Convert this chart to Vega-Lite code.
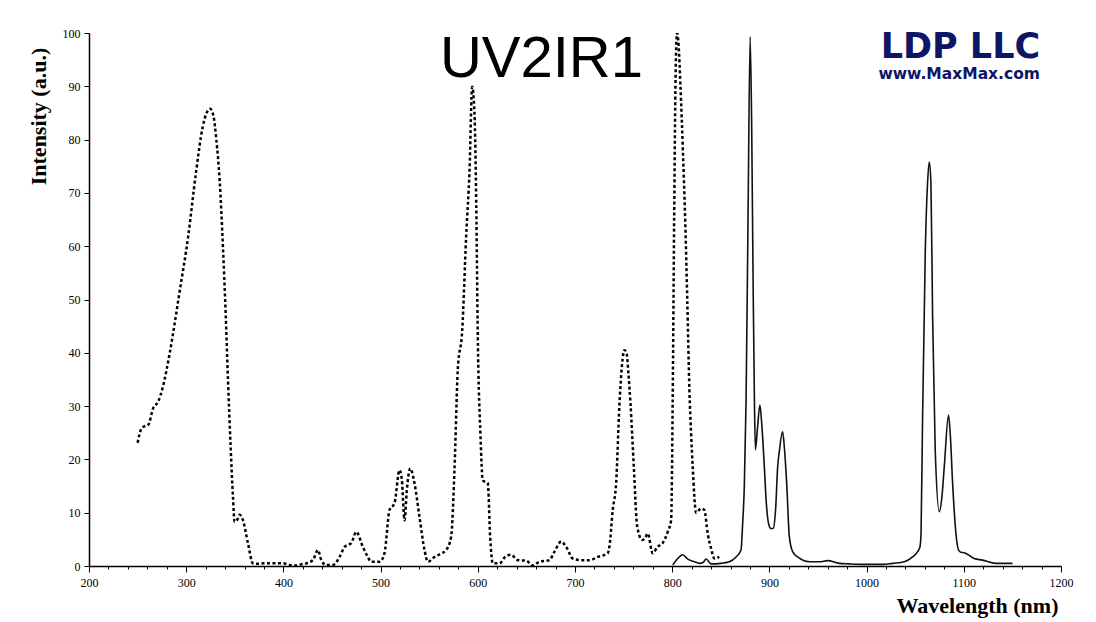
{
  "$schema": "https://vega.github.io/schema/vega-lite/v6.json",
  "width": 972,
  "height": 533,
  "autosize": {"type": "none"},
  "padding": {"left": 89, "top": 33, "right": 35, "bottom": 56},
  "background": "white",
  "config": {"view": {"stroke": null}},
  "datasets": {
    "uvvis": [
      {"nm": 250, "v": 23.1}, {"nm": 254, "v": 25.8}, {"nm": 257, "v": 26.2}, {"nm": 261, "v": 26.5}, {"nm": 266, "v": 29.6},
      {"nm": 271, "v": 30.8}, {"nm": 276, "v": 33.6}, {"nm": 283, "v": 39.9}, {"nm": 293, "v": 51.2}, {"nm": 302, "v": 61.8},
      {"nm": 310, "v": 73.7}, {"nm": 317, "v": 82.4}, {"nm": 321, "v": 85}, {"nm": 324.5, "v": 85.8}, {"nm": 328, "v": 84.5},
      {"nm": 331, "v": 80}, {"nm": 334.4, "v": 72.4}, {"nm": 337.8, "v": 59.9}, {"nm": 340.6, "v": 47.4}, {"nm": 343, "v": 34.9},
      {"nm": 345.7, "v": 22.4}, {"nm": 348.1, "v": 13}, {"nm": 349.8, "v": 8.3}, {"nm": 352, "v": 8.5}, {"nm": 355, "v": 9.6},
      {"nm": 358.4, "v": 8.6}, {"nm": 363.5, "v": 4.3}, {"nm": 368.6, "v": 0.5}, {"nm": 372, "v": 0.4}, {"nm": 380, "v": 0.5},
      {"nm": 390, "v": 0.5}, {"nm": 399.5, "v": 0.5}, {"nm": 406, "v": 0.2}, {"nm": 413, "v": 0.1}, {"nm": 418, "v": 0.3},
      {"nm": 423.5, "v": 0.5}, {"nm": 430.3, "v": 1.1}, {"nm": 435.5, "v": 3}, {"nm": 439, "v": 1.1}, {"nm": 444, "v": 0.2},
      {"nm": 451, "v": 0.2}, {"nm": 457.8, "v": 1.7}, {"nm": 463, "v": 3.6}, {"nm": 467, "v": 4}, {"nm": 469.8, "v": 4.3},
      {"nm": 475, "v": 6.4}, {"nm": 481.7, "v": 3.6}, {"nm": 486, "v": 2}, {"nm": 490.4, "v": 0.8}, {"nm": 499, "v": 0.8},
      {"nm": 504, "v": 2.4}, {"nm": 509.2, "v": 10.5}, {"nm": 514.3, "v": 11.8}, {"nm": 519.5, "v": 18}, {"nm": 521.9, "v": 16.1},
      {"nm": 524.6, "v": 8.6}, {"nm": 527, "v": 14.3}, {"nm": 530.5, "v": 18.3}, {"nm": 534.9, "v": 15.5}, {"nm": 540, "v": 9.2},
      {"nm": 545.2, "v": 3}, {"nm": 548.6, "v": 0.8}, {"nm": 555.5, "v": 1.7}, {"nm": 562, "v": 2.3}, {"nm": 567.5, "v": 3},
      {"nm": 572.6, "v": 5.5}, {"nm": 576, "v": 18}, {"nm": 579.4, "v": 36.8}, {"nm": 584, "v": 44.3}, {"nm": 588, "v": 61.8},
      {"nm": 591.5, "v": 74.3}, {"nm": 594.2, "v": 89.9}, {"nm": 596.6, "v": 84.9}, {"nm": 598.4, "v": 68}, {"nm": 600, "v": 43},
      {"nm": 602.8, "v": 24.3}, {"nm": 605.1, "v": 16.1}, {"nm": 610.3, "v": 15.5}, {"nm": 612.7, "v": 5.5}, {"nm": 615.4, "v": 0.5},
      {"nm": 622.3, "v": 0.5}, {"nm": 629.2, "v": 1.9}, {"nm": 634.3, "v": 2.1}, {"nm": 641.1, "v": 1.1}, {"nm": 649.8, "v": 1},
      {"nm": 656.6, "v": 0.1}, {"nm": 663.4, "v": 0.8}, {"nm": 673.7, "v": 1.1}, {"nm": 678.9, "v": 2.7}, {"nm": 685.8, "v": 4.6},
      {"nm": 690.9, "v": 3.6}, {"nm": 697.7, "v": 1.4}, {"nm": 706.3, "v": 1.1}, {"nm": 714.9, "v": 1.1}, {"nm": 723.4, "v": 1.7},
      {"nm": 733.7, "v": 2.4}, {"nm": 735.4, "v": 3.6}, {"nm": 738.8, "v": 10.5}, {"nm": 742.3, "v": 15.5}, {"nm": 745.7, "v": 30.2},
      {"nm": 748.5, "v": 38}, {"nm": 750.8, "v": 40.5}, {"nm": 753, "v": 40}, {"nm": 755, "v": 36}, {"nm": 757.1, "v": 30.5},
      {"nm": 760.5, "v": 18.6}, {"nm": 764, "v": 7.4}, {"nm": 769.1, "v": 4.9}, {"nm": 772, "v": 5.2}, {"nm": 774.8, "v": 6.1},
      {"nm": 779.9, "v": 2.4}, {"nm": 785, "v": 3.6}, {"nm": 790.2, "v": 4.3}, {"nm": 795.4, "v": 6.4}, {"nm": 798.9, "v": 8.6},
      {"nm": 800.5, "v": 31}, {"nm": 802, "v": 65}, {"nm": 803.5, "v": 92}, {"nm": 805, "v": 100}, {"nm": 806.5, "v": 98},
      {"nm": 808.5, "v": 90}, {"nm": 811, "v": 78}, {"nm": 813.5, "v": 64}, {"nm": 815.5, "v": 50}, {"nm": 817.7, "v": 33},
      {"nm": 819.4, "v": 25}, {"nm": 821.1, "v": 18.6}, {"nm": 824.6, "v": 10}, {"nm": 829.7, "v": 10.8}, {"nm": 833.1, "v": 10.5},
      {"nm": 836.5, "v": 6.1}, {"nm": 840, "v": 3.3}, {"nm": 843.4, "v": 1.4}, {"nm": 848.5, "v": 1.7}
    ],
    "ir": [
      {"nm": 800.6, "v": 0.2}, {"nm": 805.7, "v": 1.4}, {"nm": 810.8, "v": 2.1}, {"nm": 816, "v": 1.3}, {"nm": 822.8, "v": 0.8},
      {"nm": 828, "v": 0.5}, {"nm": 831.4, "v": 0.6}, {"nm": 834.9, "v": 1.3}, {"nm": 840, "v": 0.4}, {"nm": 850, "v": 0.5},
      {"nm": 858.8, "v": 0.8}, {"nm": 865.7, "v": 1.7}, {"nm": 870.8, "v": 3}, {"nm": 872.5, "v": 8}, {"nm": 874.2, "v": 15},
      {"nm": 876, "v": 31}, {"nm": 878, "v": 65}, {"nm": 880.2, "v": 99.3}, {"nm": 881.8, "v": 82}, {"nm": 883.3, "v": 52},
      {"nm": 884.6, "v": 31}, {"nm": 885.6, "v": 21.8}, {"nm": 887.8, "v": 26}, {"nm": 890.2, "v": 30.2}, {"nm": 892, "v": 27},
      {"nm": 894.8, "v": 18.6}, {"nm": 896.6, "v": 12.4}, {"nm": 900, "v": 7.4}, {"nm": 902, "v": 7}, {"nm": 904.1, "v": 7.1},
      {"nm": 906.5, "v": 11}, {"nm": 908.5, "v": 18.6}, {"nm": 910.2, "v": 21.5}, {"nm": 913.6, "v": 25.2}, {"nm": 915.5, "v": 22},
      {"nm": 917.8, "v": 15.5}, {"nm": 920.5, "v": 5.5}, {"nm": 923.9, "v": 2.7}, {"nm": 929.1, "v": 1.7}, {"nm": 941.1, "v": 0.8},
      {"nm": 951.4, "v": 0.8}, {"nm": 960, "v": 1}, {"nm": 971.9, "v": 0.5}, {"nm": 982.2, "v": 0.4}, {"nm": 999.4, "v": 0.3},
      {"nm": 1016.5, "v": 0.3}, {"nm": 1026.7, "v": 0.5}, {"nm": 1038.8, "v": 0.8}, {"nm": 1047.3, "v": 1.7}, {"nm": 1052.5, "v": 2.7},
      {"nm": 1054.9, "v": 3.6}, {"nm": 1056, "v": 6.1}, {"nm": 1057.6, "v": 28}, {"nm": 1060.4, "v": 59.3}, {"nm": 1062.7, "v": 71.8},
      {"nm": 1064.5, "v": 75.8}, {"nm": 1066.2, "v": 71.8}, {"nm": 1067.9, "v": 46.8}, {"nm": 1070.6, "v": 21.8}, {"nm": 1074.8, "v": 10.2},
      {"nm": 1077.5, "v": 13}, {"nm": 1079.9, "v": 18.6}, {"nm": 1084.3, "v": 28.3}, {"nm": 1086, "v": 25}, {"nm": 1088.5, "v": 15.5},
      {"nm": 1091.9, "v": 6.1}, {"nm": 1094.6, "v": 3}, {"nm": 1097, "v": 2.6}, {"nm": 1100.5, "v": 2.5}, {"nm": 1110.7, "v": 1.4},
      {"nm": 1119.3, "v": 1.1}, {"nm": 1133, "v": 0.5}, {"nm": 1150.1, "v": 0.5}
    ]
  },
  "layer": [
    {
      "data": {"name": "uvvis"},
      "mark": {"type": "line", "color": "black", "strokeWidth": 2.5, "strokeDash": [3, 2.5], "interpolate": "monotone", "clip": true},
      "encoding": {
        "x": {
          "field": "nm", "type": "quantitative",
          "scale": {"domain": [200, 1200], "nice": false, "zero": false},
          "axis": {
            "values": [200,220,240,260,280,300,320,340,360,380,400,420,440,460,480,500,520,540,560,580,600,620,640,660,680,700,720,740,760,780,800,820,840,860,880,900,920,940,960,980,1000,1020,1040,1060,1080,1100,1120,1140,1160,1180,1200],
            "tickCount": 200,
            "format": "d",
            "labelExpr": "datum.value % 100 === 0 ? datum.label : ''",
            "tickSize": {"condition": {"test": "datum.value % 100 === 0", "value": 6}, "value": 3},
            "grid": false,
            "title": "Wavelength (nm)",
            "titleFont": "Liberation Serif", "titleFontSize": 22, "titleFontWeight": "bold", "titleColor": "black",
            "titleX": 969, "titleY": 46, "titleAlign": "right", "titleBaseline": "alphabetic", "titleAnchor": "end",
            "labelFont": "Liberation Serif", "labelFontSize": 12, "labelColor": "black", "labelPadding": 5,
            "labelFlush": false, "labelOverlap": false,
            "domainColor": "black", "domainWidth": 1.5, "tickColor": "black", "tickWidth": 1
          }
        },
        "y": {
          "field": "v", "type": "quantitative",
          "scale": {"domain": [0, 100], "nice": false},
          "axis": {
            "values": [0,10,20,30,40,50,60,70,80,90,100],
            "tickCount": 50,
            "format": "d",
            "grid": false,
            "tickSize": 5,
            "title": "Intensity (a.u.)",
            "titleFont": "Liberation Serif", "titleFontSize": 22, "titleFontWeight": "bold", "titleColor": "black",
            "titleAngle": 270, "titleX": -44, "titleY": 83, "titleAlign": "center", "titleBaseline": "alphabetic",
            "labelFont": "Liberation Serif", "labelFontSize": 12, "labelColor": "black", "labelPadding": 4,
            "labelFlush": false, "labelOverlap": false,
            "domainColor": "black", "domainWidth": 1.5, "tickColor": "black", "tickWidth": 1
          }
        }
      }
    },
    {
      "data": {"name": "ir"},
      "mark": {"type": "line", "color": "#111111", "strokeWidth": 1.6, "interpolate": "monotone", "clip": true},
      "encoding": {
        "x": {"field": "nm", "type": "quantitative"},
        "y": {"field": "v", "type": "quantitative"}
      }
    },
    {
      "data": {"values": [{}]},
      "mark": {"type": "text", "font": "Liberation Sans", "fontWeight": "normal", "fontSize": 58, "color": "black", "align": "center", "baseline": "alphabetic"},
      "encoding": {
        "x": {"datum": 665.5, "type": "quantitative"},
        "y": {"datum": 91.7, "type": "quantitative"},
        "text": {"value": "UV2IR1"}
      }
    },
    {
      "data": {"values": [{}]},
      "mark": {"type": "text", "font": "DejaVu Sans", "fontWeight": "bold", "fontSize": 35, "color": "#0c1566", "align": "center", "baseline": "alphabetic"},
      "encoding": {
        "x": {"datum": 1096.5, "type": "quantitative"},
        "y": {"datum": 95.3, "type": "quantitative"},
        "text": {"value": "LDP LLC"}
      }
    },
    {
      "data": {"values": [{}]},
      "mark": {"type": "text", "font": "DejaVu Sans", "fontWeight": "bold", "fontSize": 15.5, "color": "#0c1566", "align": "center", "baseline": "alphabetic"},
      "encoding": {
        "x": {"datum": 1095.3, "type": "quantitative"},
        "y": {"datum": 91.4, "type": "quantitative"},
        "text": {"value": "www.MaxMax.com"}
      }
    }
  ]
}
